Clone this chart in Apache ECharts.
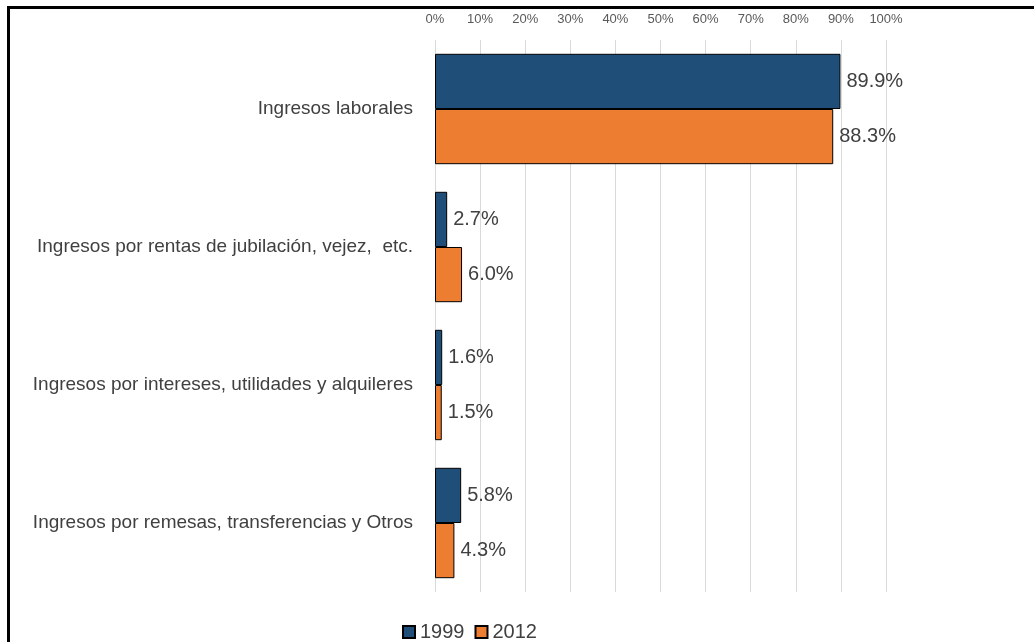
<!DOCTYPE html>
<html>
<head>
<meta charset="utf-8">
<script src="https://cdn.jsdelivr.net/npm/echarts@6/dist/echarts.min.js"></script>
<style>
    html, body { margin: 0; padding: 0; background: #fff; overflow: hidden; }
    .frame {
        position: absolute;
        left: 7px;
        top: 6px;
        width: 1100px;
        height: 700px;
        border-left: 3px solid #000;
        border-top: 3px solid #000;
    }
    #chart {
        position: absolute;
        left: 0;
        top: 0;
        width: 1034px;
        height: 642px;
    }
</style>
</head>
<body>
<div class="frame"></div>
<div id="chart"></div>
<script>
    const FONT = "'Liberation Sans Narrow', 'Arial Narrow', 'Liberation Sans', sans-serif"

    const categories = [
        'Ingresos laborales',
        'Ingresos por rentas de jubilación, vejez,  etc.',
        'Ingresos por intereses, utilidades y alquileres',
        'Ingresos por remesas, transferencias y Otros'
    ]
    const seriesNames = ['1999', '2012']
    const values1999 = [89.9, 2.7, 1.6, 5.8]
    const values2012 = [88.3, 6.0, 1.5, 4.3]

    const chart = echarts.init(document.getElementById('chart'))

    function labelStyle() {
        return {
            show: true,
            position: 'right',
            distance: 6,
            fontFamily: FONT,
            fontSize: 20,
            color: '#404040',
            formatter: function (p) {
                return p.value.toFixed(1) + '%'
            }
        }
    }

    const option = {
        animation: false,
        textStyle: { fontFamily: FONT },
        grid: {
            left: 435,
            right: 148,
            top: 40,
            bottom: 50
        },
        legend: {
            data: seriesNames,
            left: 397,
            top: 617,
            icon: 'rect',
            itemWidth: 12,
            itemHeight: 12,
            itemGap: 10,
            textStyle: {
                fontFamily: FONT,
                fontSize: 20,
                color: '#404040'
            }
        },
        xAxis: {
            type: 'value',
            position: 'top',
            min: 0,
            max: 100,
            interval: 10,
            axisLine: { show: false },
            axisTick: { show: false },
            axisLabel: {
                formatter: '{value}%',
                fontFamily: FONT,
                fontSize: 13,
                color: '#595959',
                margin: 14
            },
            splitLine: {
                lineStyle: { color: '#d9d9d9', width: 1 }
            }
        },
        yAxis: {
            type: 'category',
            inverse: true,
            data: categories,
            axisLine: { show: false },
            axisTick: { show: false },
            axisLabel: {
                fontFamily: FONT,
                fontSize: 19,
                color: '#404040',
                margin: 22
            }
        },
        series: [
            {
                name: seriesNames[0],
                type: 'bar',
                data: values1999,
                barGap: '0%',
                barCategoryGap: '20%',
                itemStyle: {
                    color: '#1f4e79',
                    borderColor: '#000',
                    borderWidth: 1
                },
                label: labelStyle()
            },
            {
                name: seriesNames[1],
                type: 'bar',
                data: values2012,
                barGap: '0%',
                barCategoryGap: '20%',
                itemStyle: {
                    color: '#ed7d31',
                    borderColor: '#000',
                    borderWidth: 1
                },
                label: labelStyle()
            }
        ]
    }

    chart.setOption(option)
</script>
</body>
</html>
